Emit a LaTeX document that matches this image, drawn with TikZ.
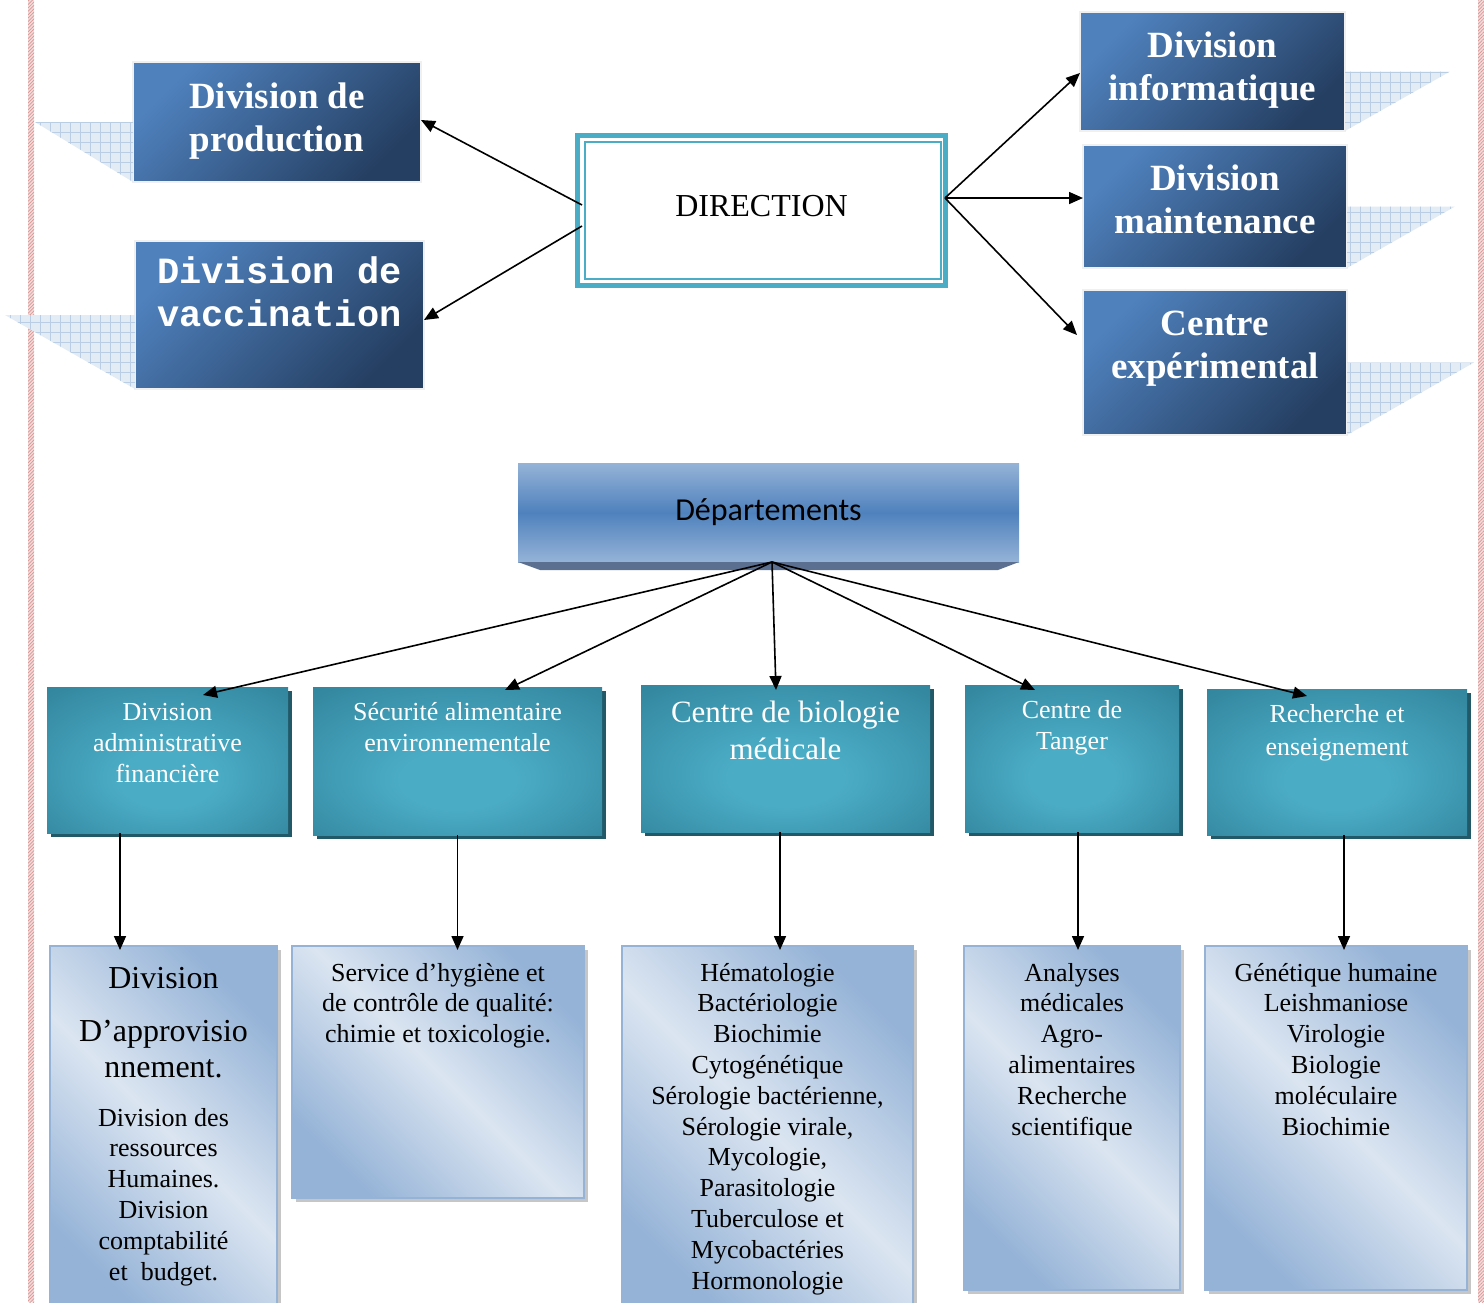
\documentclass[tikz,border=0pt]{standalone}
\usepackage{fontspec}
\setmainfont{Liberation Serif}
\newfontfamily\monobold{Liberation Mono}
\newfontfamily\calibri{Carlito}
\usetikzlibrary{positioning,arrows.meta,shadows,patterns.meta}

\definecolor{blueA}{HTML}{4F81BD}
\definecolor{blueD}{HTML}{253F62}
\definecolor{tealE}{HTML}{31849B}
\definecolor{tealC}{HTML}{4BACC6}
\definecolor{tealS}{HTML}{215968}
\definecolor{paleA}{HTML}{DBE5F1}
\definecolor{paleB}{HTML}{95B3D7}
\definecolor{depEdge}{HTML}{5B7090}
\definecolor{gridfill}{HTML}{E3EBF5}
\definecolor{gridline}{HTML}{B9CDE5}
\definecolor{pinkfill}{HTML}{F2DCDB}
\definecolor{pinkline}{HTML}{D99694}

\pgfdeclareradialshading{tealglow}{\pgfpoint{0bp}{-8bp}}{color(0bp)=(tealC); color(10bp)=(tealC); color(38bp)=(tealE); color(50bp)=(tealE)}
\pgfdeclareverticalshading{paleband}{100bp}{color(0bp)=(paleB); color(25bp)=(paleB); color(50bp)=(paleA); color(75bp)=(paleB); color(100bp)=(paleB)}

\newcommand\bigln[1]{{\fontsize{16}{19}\selectfont #1}}

\tikzset{
	darkbox/.style={anchor=north, outer sep=0pt, inner ysep=0pt, draw=gray!12, line width=1pt,
		top color=blueA, bottom color=blueD, shading angle=45, text=white, align=center,
		font=\fontsize{18.5}{21.5}\selectfont\bfseries},
	dirbox/.style={draw=tealC, line width=2.5pt, fill=white, minimum width=184pt, minimum height=75pt,
		text depth=4.5pt, font=\fontsize{16}{19}\selectfont},
	depbox/.style={outer sep=0pt, inner sep=0pt, minimum width=250.5pt, minimum height=49.5pt,
		top color=paleB, bottom color=paleB, middle color=blueA, font=\calibri\fontsize{16}{19}\selectfont},
	tealbox/.style={anchor=north, outer sep=0pt, inner ysep=0pt, shade, shading=tealglow, text=white,
		align=center, font=\fontsize{13}{15.5}\selectfont,
		drop shadow={shadow xshift=1.75pt, shadow yshift=-2pt, fill=tealS, opacity=1}},
	palebox/.style={anchor=north, outer sep=0pt, inner ysep=0pt, shade, shading=paleband, shading angle=-45,
		draw=paleB, line width=1pt, align=center, font=\fontsize{13}{15.4}\selectfont,
		drop shadow={shadow xshift=2pt, shadow yshift=-2pt, fill=gray!45, opacity=1}},
	gridtri/.style={preaction={fill=gridfill}, pattern={Hatch[angle=0, distance=5pt, line width=0.3pt]}, pattern color=gridline},
	pinkstrip/.style={preaction={fill=pinkfill}, pattern={Lines[angle=45, distance=1.2pt, line width=0.35pt]}, pattern color=pinkline},
	arr/.style={-{Triangle[length=7pt,width=6pt]}, line width=0.8pt},
}

\begin{document}
\begin{tikzpicture}[x=0.5pt, y=-0.5pt]
	\useasboundingbox (0,0) rectangle (1484,1302);
	\path[pinkstrip] (28,0) rectangle (34,1302); %page border
	\path[pinkstrip] (1478,0) rectangle (1484,1302);

	\node[darkbox, minimum width=144pt, text height=44.5pt, text depth=15.5pt] (prod) at (277,62) {Division de\\production};
	\node[darkbox, minimum width=144.5pt, text height=42.5pt, text depth=31.5pt, font=\fontsize{18.5}{21.5}\selectfont\monobold\bfseries,
		below=29.5pt of prod, xshift=1.25pt] (vacc) {Division de\\vaccination};
	\node[dirbox] (dir) at (761.5,210.5) {DIRECTION};
	\draw[tealC, line width=1pt] ([shift={(5pt,-4.5pt)}]dir.north west) rectangle ([shift={(-3.5pt,4.5pt)}]dir.south east);
	\node[darkbox, minimum width=132.5pt, text height=44pt, text depth=15.5pt] (info) at (1212.5,12) {Division\\informatique};
	\node[darkbox, minimum width=132pt, text height=44pt, text depth=17.5pt, below=7pt of info, xshift=1.25pt] (maint) {Division\\maintenance};
	\node[darkbox, minimum width=132pt, text height=44pt, text depth=28.5pt, below=11pt of maint] (cexp) {Centre\\expérimental};

	\path[gridtri] (prod.south west) -- (prod.west) -- ++(-49pt,0) -- cycle;
	\path[gridtri] (vacc.south west) -- (vacc.west) -- ++(-65pt,0) -- cycle;
	\path[gridtri] (info.south east) -- (info.east) -- ++(52.5pt,0) -- cycle;
	\path[gridtri] (maint.south east) -- (maint.east) -- ++(54pt,0) -- cycle;
	\path[gridtri] (cexp.south east) -- (cexp.east) -- ++(63.5pt,0) -- cycle;

	\coordinate (dirR) at ([shift={(-1.5pt,6.25pt)}]dir.east);
	\draw[arr] ([shift={(3.5pt,2.75pt)}]dir.west) -- ([yshift=1pt]prod.east);
	\draw[arr] ([shift={(3.5pt,-7.75pt)}]dir.west) -- ([yshift=-2.5pt]vacc.east);
	\draw[arr] (dirR) -- ([yshift=-0.75pt]info.west);
	\draw[arr] (dirR) -- (dirR -| maint.west);
	\draw[arr] (dirR) -- ([shift={(-3pt,13.75pt)}]cexp.west);

	\node[depbox] (dep) at (768.5,512.5) {Départements};
	\fill[depEdge] (dep.south west) -- (dep.south east) -- ([shift={(-10.5pt,-4pt)}]dep.south east) -- ([shift={(11pt,-4pt)}]dep.south west) -- cycle;
	\coordinate (hub) at ([xshift=1.75pt]dep.south);

	\node[tealbox, minimum width=120.5pt, text height=47.5pt, text depth=25.5pt] (adm) at (167.5,687) {Division\\administrative\\financière};
	\node[tealbox, minimum width=144.5pt, text height=32pt, text depth=42pt] (secu) at (457.5,687) {Sécurité alimentaire\\environnementale};
	\node[tealbox, minimum width=144.5pt, text height=37pt, text depth=36.5pt, font=\fontsize{15.5}{18.5}\selectfont] (bio) at (785.5,685) {Centre de biologie\\médicale};
	\node[tealbox, minimum width=107pt, text height=32pt, text depth=41.5pt] (tang) at (1072,685) {Centre de\\Tanger};
	\node[tealbox, minimum width=130pt, text height=33pt, text depth=40pt, font=\fontsize{13}{16.5}\selectfont] (rech) at (1337,689) {Recherche et\\enseignement};

	\draw[arr] (hub) -- ([shift={(17.75pt,-4pt)}]adm.north);
	\draw[arr] (hub) -- ([shift={(23.75pt,-1.5pt)}]secu.north);
	\draw[arr] (hub) -- ([shift={(-4.75pt,-2.5pt)}]bio.north);
	\draw[arr] (hub) -- ([shift={(-18.5pt,-2.5pt)}]tang.north);
	\draw[arr] (hub) -- ([shift={(-15pt,-3.5pt)}]rech.north);

	\node[palebox, minimum width=113.5pt, text height=167pt, text depth=15pt, below=56.5pt of adm, xshift=-2pt] (admL)
		{\bigln{Division}\\[11pt]\bigln{D’approvisio}\\[2.5pt]\bigln{nnement.}\\[9pt]Division des\\ressources\\Humaines.\\Division\\comptabilité\\et~~budget.};
	\node[palebox, minimum width=146pt, text height=48.3pt, text depth=77.7pt, below=55.5pt of secu, xshift=-9.75pt] (secL)
		{Service d’hygiène et\\de contrôle de qualité:\\chimie et toxicologie.};
	\node[palebox, minimum width=145.5pt, text height=171.5pt, text depth=10.5pt, below=57pt of bio, xshift=-9pt] (bioL)
		{Hématologie\\Bactériologie\\Biochimie\\Cytogénétique\\Sérologie bactérienne,\\Sérologie virale,\\Mycologie,\\Parasitologie\\Tuberculose et\\Mycobactéries\\Hormonologie};
	\node[palebox, minimum width=108pt, text height=94.5pt, text depth=77.5pt, below=57pt of tang] (tanL)
		{Analyses\\médicales\\Agro-\\alimentaires\\Recherche\\scientifique};
	\node[palebox, minimum width=131pt, text height=94.5pt, text depth=77.5pt, below=55.5pt of rech, xshift=-0.5pt] (recL)
		{Génétique humaine\\Leishmaniose\\Virologie\\Biologie\\moléculaire\\Biochimie};

	\coordinate (admB) at ([xshift=-23.75pt]adm.south);
	\coordinate (secuB) at (secu.south);
	\coordinate (bioB) at ([xshift=-2.75pt]bio.south);
	\coordinate (tangB) at ([xshift=3pt]tang.south);
	\coordinate (rechB) at ([xshift=3.5pt]rech.south);
	\draw[arr, shorten >=-2pt] (admB) -- (admB |- admL.north);
	\draw[arr, shorten >=-2pt] (secuB) -- (secuB |- secL.north);
	\draw[arr, shorten >=-2pt] (bioB) -- (bioB |- bioL.north);
	\draw[arr, shorten >=-2pt] (tangB) -- (tangB |- tanL.north);
	\draw[arr, shorten >=-2pt] (rechB) -- (rechB |- recL.north);
\end{tikzpicture}
\end{document}
